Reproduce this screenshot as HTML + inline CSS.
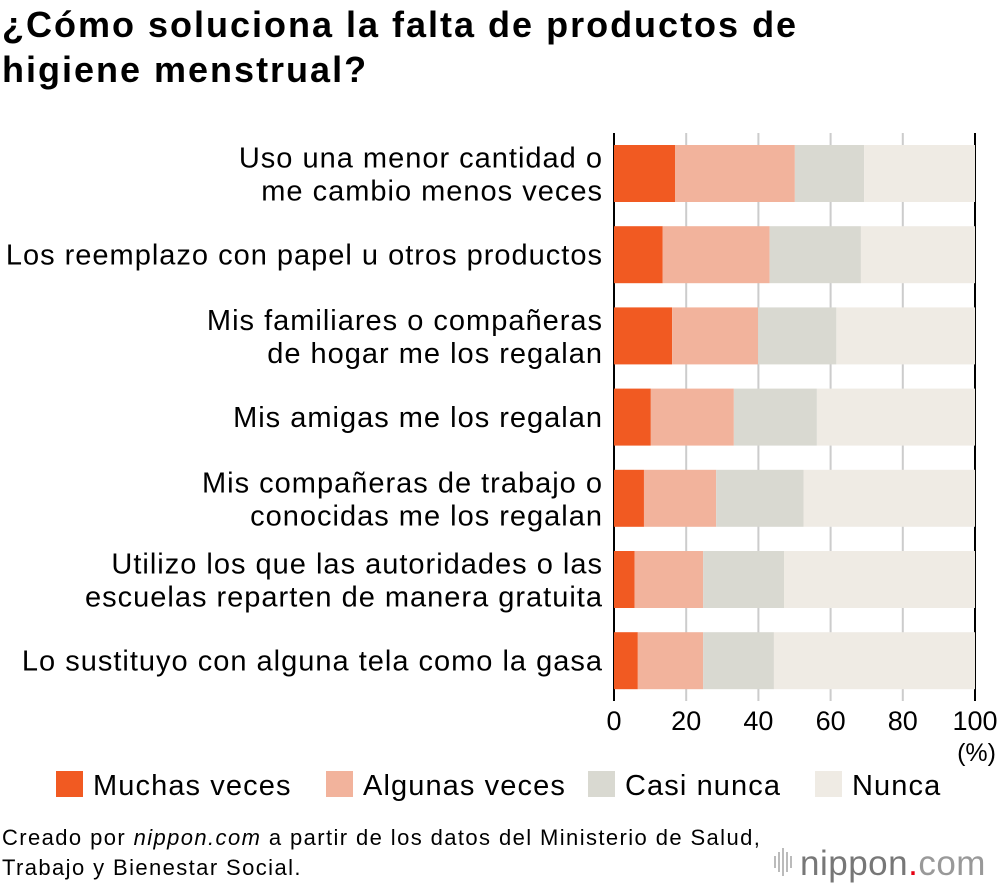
<!DOCTYPE html>
<html><head><meta charset="utf-8"><style>
body{margin:0;background:#fff;width:1000px;height:888px;overflow:hidden;font-family:"Liberation Sans",Arial,sans-serif;}
</style></head><body>
<svg id="chart" width="1000" height="888" xmlns="http://www.w3.org/2000/svg" font-family="Liberation Sans, Arial, sans-serif">
<text x="2" y="37" font-size="36" font-weight="bold" letter-spacing="2" fill="#000">¿Cómo soluciona la falta de productos de</text>
<text x="2" y="82" font-size="36" font-weight="bold" letter-spacing="2" fill="#000">higiene menstrual?</text>
<g id="grid"></g><g id="bars"></g><g id="labels"></g><g id="ticks"></g>
<text x="996" y="761" font-size="25" text-anchor="end">(%)</text>
<g id="legend"></g>
<text x="2" y="845" font-size="22" letter-spacing="1.4">Creado por <tspan font-style="italic">nippon.com</tspan> a partir de los datos del Ministerio de Salud,</text>
<text x="2" y="875" font-size="22" letter-spacing="1.4">Trabajo y Bienestar Social.</text>
<g>
<g fill="#bbb"><rect x="774" y="856" width="2" height="12"/><rect x="778" y="852" width="2" height="20"/><rect x="782" y="848" width="2" height="28"/><rect x="786" y="852" width="2" height="20"/><rect x="790" y="856" width="2" height="12"/></g>
<text x="800" y="875" font-size="35" fill="#777" letter-spacing="0.5">nippon<tspan fill="#e60012">.</tspan><tspan fill="#999">com</tspan></text>
</g>
</svg>
<script>
const categories=[["Uso una menor cantidad o","me cambio menos veces"],["Los reemplazo con papel u otros productos"],["Mis familiares o compañeras","de hogar me los regalan"],["Mis amigas me los regalan"],["Mis compañeras de trabajo o","conocidas me los regalan"],["Utilizo los que las autoridades o las","escuelas reparten de manera gratuita"],["Lo sustituyo con alguna tela como la gasa"]];
const muchas=[16.9,13.5,16.1,10.2,8.3,5.7,6.6];
const algunas=[33.2,29.6,23.8,23.0,20.0,19.0,18.1];
const casi=[19.2,25.3,21.7,23.0,24.2,22.4,19.6];
const nunca=[30.7,31.6,38.4,43.8,47.5,52.9,55.7];
const seriesNames=["Muchas veces","Algunas veces","Casi nunca","Nunca"];
const ticks=[0,20,40,60,80,100];
const colors=["#F15A22","#F2B39C","#D9D9D1","#EFEBE4"];
const NS="http://www.w3.org/2000/svg";
const x0=614,x1=975,top0=145,step=81.2,bh=57;
const xs=v=>x0+(x1-x0)*v/100;
function mk(t,a,p){const e=document.createElementNS(NS,t);for(const k in a)e.setAttribute(k,a[k]);p.appendChild(e);return e;}
const grid=document.getElementById('grid'),bars=document.getElementById('bars'),labels=document.getElementById('labels'),tk=document.getElementById('ticks'),lg=document.getElementById('legend');
ticks.forEach(t=>{
 const l=mk('line',{x1:xs(t),x2:xs(t),y1:133,y2:701,stroke:(t==0||t==100)?'#000':'#ccc','stroke-width':2},grid);
 
 
 const tx=mk('text',{x:xs(t),y:730,'font-size':27,'text-anchor':'middle'},tk);tx.textContent=t;
 
 
});
const series=[muchas,algunas,casi,nunca];
categories.forEach((c,i)=>{
 const y=top0+i*step;let acc=0;
 series.forEach((s,j)=>{
  const r=mk('rect',{x:xs(acc),y:y,width:xs(acc+s[i])-xs(acc),height:bh,fill:colors[j]},bars);
  
  
  acc+=s[i];
 });
 const cy=y+bh/2;
 c.forEach((line,k)=>{
  const ty=c.length==1?cy+10:cy-6+k*33;
  const t=mk('text',{x:603,y:ty,'font-size':29,'letter-spacing':1,'text-anchor':'end'},labels);t.textContent=line;
  
  
 });
});
const lx=[56,326,588,815];
seriesNames.forEach((n,j)=>{
 const r=mk('rect',{x:lx[j],y:771,width:27,height:26,fill:colors[j]},lg);
 
 
 const t=mk('text',{x:lx[j]+37,y:795,'font-size':29,'letter-spacing':1.1},lg);t.textContent=n;
 
 
});
</script>
</body></html>
